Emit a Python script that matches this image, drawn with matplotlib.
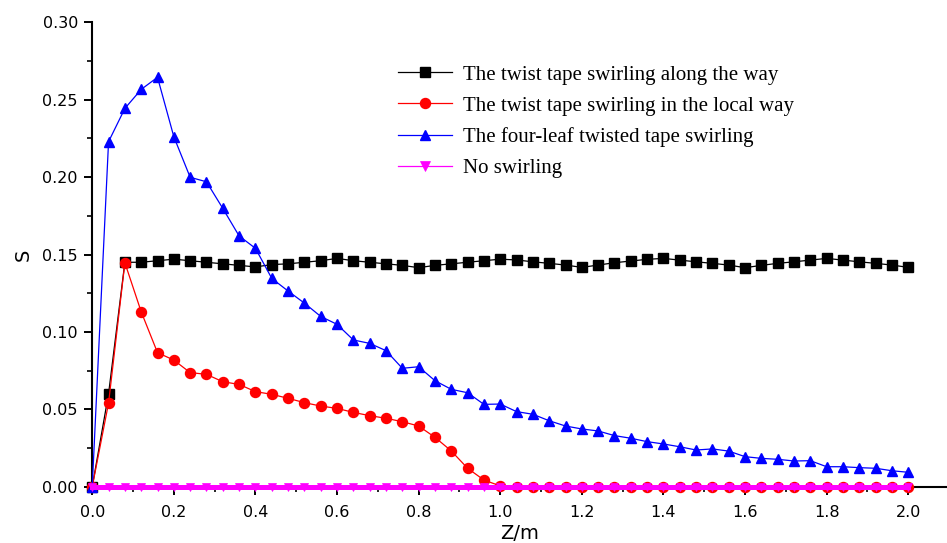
import numpy as np
import matplotlib
matplotlib.use("Agg")
import matplotlib.pyplot as plt
from matplotlib.ticker import MultipleLocator

# Axial position (m)
z = np.round(np.arange(0, 2.0001, 0.04), 2)

# Swirl number S along the tube for each insert
s_along = [0.0, 0.060, 0.145, 0.145, 0.146, 0.147, 0.146, 0.145, 0.144, 0.143,
           0.142, 0.1435, 0.144, 0.145, 0.146, 0.1475, 0.146, 0.145, 0.144, 0.143,
           0.1415, 0.143, 0.144, 0.145, 0.146, 0.147, 0.1465, 0.1453, 0.1443, 0.1432,
           0.1417, 0.1432, 0.1447, 0.1458, 0.1469, 0.1475, 0.1464, 0.1453, 0.1443, 0.1432,
           0.1415, 0.143, 0.1443, 0.1453, 0.1464, 0.1475, 0.1464, 0.1453, 0.1443, 0.1432,
           0.1417]

s_local = [0.0, 0.054, 0.1447, 0.113, 0.0866, 0.0818, 0.0737, 0.0726, 0.0678, 0.0661,
           0.0614, 0.0597, 0.0571, 0.0543, 0.0521, 0.0506, 0.048, 0.0459, 0.0442, 0.042,
           0.0392, 0.0319, 0.0231, 0.0119, 0.0043, 0.0005, 0.0, 0.0, 0.0, 0.0,
           0.0, 0.0, 0.0, 0.0, 0.0, 0.0, 0.0, 0.0, 0.0, 0.0,
           0.0, 0.0, 0.0, 0.0, 0.0, 0.0, 0.0, 0.0, 0.0, 0.0,
           0.0]

s_four_leaf = [0.0, 0.2229, 0.2444, 0.2567, 0.2645, 0.2261, 0.1999, 0.197, 0.1798, 0.162,
               0.154, 0.1346, 0.1264, 0.1186, 0.110, 0.1049, 0.0948, 0.0926, 0.0879, 0.0765,
               0.0775, 0.0685, 0.0629, 0.0607, 0.0532, 0.0534, 0.0485, 0.0468, 0.0426, 0.0392,
               0.0373, 0.036, 0.033, 0.0313, 0.0291, 0.0276, 0.0258, 0.0237, 0.0244, 0.023,
               0.0194, 0.0183, 0.0177, 0.0166, 0.0168, 0.0129, 0.0129, 0.0123, 0.0119, 0.0103,
               0.0093]

s_none = [0.0] * len(z)

labels = ["The twist tape swirling along the way",
          "The twist tape swirling in the local way",
          "The four-leaf twisted tape swirling",
          "No swirling"]

SANS = ["DejaVu Sans"]
SERIF = ["Liberation Serif", "DejaVu Serif"]

fig = plt.figure(figsize=(9.47, 5.43), dpi=100)
ax = fig.add_axes([0.0974, 0.1037, 0.9026, 0.8551])

ax.plot(z, s_along, color="black", marker="s", markersize=6.8, linewidth=0.9,
        label=labels[0], zorder=3, clip_on=False)
ax.plot(z, s_local, color="#ff0000", marker="o", markersize=7.2, linewidth=0.9,
        label=labels[1], zorder=4, clip_on=False)
ax.plot(z, s_four_leaf, color="#0000ff", marker="^", markersize=7.8, linewidth=0.9,
        label=labels[2], zorder=5, clip_on=False)
ax.plot(z, s_none, color="#ff00ff", marker="v", markersize=5.5, linewidth=3.6,
        markeredgewidth=0.5, markeredgecolor="#ff00ff",
        label=labels[3], zorder=6, clip_on=False)

ax.set_xlim(0, 2.095)
ax.set_ylim(0, 0.30)

for side in ("top", "right"):
    ax.spines[side].set_visible(False)
for side in ("left", "bottom"):
    ax.spines[side].set_linewidth(1.5)
    ax.spines[side].set_zorder(2)

xt = np.round(np.arange(0, 2.01, 0.2), 1)
yt = np.round(np.arange(0, 0.301, 0.05), 2)
ax.set_xticks(xt)
ax.set_xticklabels([f"{t:.1f}" for t in xt])
ax.set_yticks(yt)
ax.set_yticklabels([f"{t:.2f}" for t in yt])
ax.xaxis.set_minor_locator(MultipleLocator(0.1))
ax.yaxis.set_minor_locator(MultipleLocator(0.025))

ax.tick_params(which="major", direction="out", length=5.8, width=1.4, pad=4.5,
               labelsize=11.5)
ax.tick_params(axis="x", which="major", pad=7.5)
ax.tick_params(which="minor", direction="out", length=3.5, width=1.2)
for lab in ax.get_xticklabels() + ax.get_yticklabels():
    lab.set_fontfamily(SANS)

ax.set_xlabel("Z/m", fontsize=14, family=SANS, labelpad=3)
ax.set_ylabel("S", fontsize=14, family=SANS, labelpad=7)

leg = ax.legend(loc="upper left", bbox_to_anchor=(398 / 947, 1 - 65 / 543),
                bbox_transform=fig.transFigure, frameon=False,
                prop=dict(family=SERIF, size=15),
                handlelength=2.6, handletextpad=0.5, labelspacing=0.55,
                borderpad=0, borderaxespad=0)
none_handle = leg.legend_handles[3]
none_handle.set_markersize(7.5)
none_handle.set_linewidth(0.9)

fig.savefig("out.png", dpi=100)
